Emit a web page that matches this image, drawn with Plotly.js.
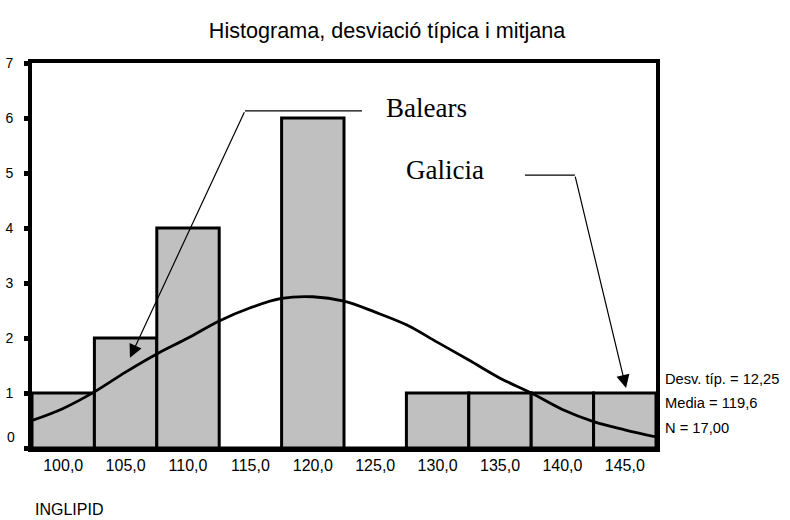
<!DOCTYPE html>
<html>
<head>
<meta charset="utf-8">
<script src="https://cdn.plot.ly/plotly-3.0.1.min.js"></script>
<style>html,body{margin:0;padding:0;background:#fff;}#chart{width:790px;height:520px;}</style>
</head>
<body>
<div id="chart"></div>
<script>
// Histogram bins (centers) and counts
const binCenters = [100, 105, 110, 115, 120, 125, 130, 135, 140, 145];
const binCounts = [1, 2, 4, 0, 6, 0, 1, 1, 1, 1];
const binWidth = 5;

// Normal curve
const curveX = [97.5, 100, 102.5, 105, 107.5, 110, 112.5, 115, 117.5, 120, 122.5, 125, 127.5, 130, 132.5, 135, 137.5, 140, 142.5, 145, 147.5];
const curveY = [0.5, 0.72, 1.02, 1.38, 1.71, 2.0, 2.31, 2.55, 2.72, 2.75, 2.67, 2.47, 2.24, 1.92, 1.60, 1.27, 1.0, 0.7, 0.48, 0.33, 0.2];

const tickLabels = ["100,0", "105,0", "110,0", "115,0", "120,0", "125,0", "130,0", "135,0", "140,0", "145,0"];
const yTickVals = [0, 1, 2, 3, 4, 5, 6, 7];
const yTickText = ["", "1", "2", "3", "4", "5", "6", "7"];
const statLines = ["Desv. típ. = 12,25", "Media = 119,6", "N = 17,00"];
const titleText = "Histograma, desviació típica i mitjana";
const xAxisName = "INGLIPID";

const traces = [
  {
    type: 'bar', x: binCenters, y: binCounts, width: binWidth,
    marker: {color: '#c0c0c0', line: {color: '#000', width: 3}},
    hoverinfo: 'skip'
  },
  {
    type: 'scatter', mode: 'lines', x: curveX, y: curveY,
    line: {color: '#000', width: 2.8, shape: 'spline'},
    hoverinfo: 'skip'
  }
];

const font = 'Arial, "Liberation Sans", sans-serif';
const serif = '"Times New Roman", "Liberation Serif", serif';

const annotations = [
  {x: 129.1, y: 6.18, xref: 'x', yref: 'y', text: 'Balears', showarrow: false,
   font: {family: serif, size: 27, color: '#000'}},
  {x: 130.6, y: 5.05, xref: 'x', yref: 'y', text: 'Galicia', showarrow: false,
   font: {family: serif, size: 27, color: '#000'}},
  {x: 105.35, y: 1.64, ax: 114.57, ay: 6.13, xref: 'x', yref: 'y', axref: 'x', ayref: 'y',
   text: '', showarrow: true, arrowhead: 2, arrowsize: 2.2, arrowwidth: 1.2, arrowcolor: '#000'},
  {x: 145.1, y: 1.09, ax: 141.0, ay: 4.96, xref: 'x', yref: 'y', axref: 'x', ayref: 'y',
   text: '', showarrow: true, arrowhead: 2, arrowsize: 2.2, arrowwidth: 1.2, arrowcolor: '#000'},
  {x: 0.0016, y: -0.16, xref: 'paper', yref: 'paper', xanchor: 'left', yanchor: 'middle',
   text: xAxisName, showarrow: false, font: {family: font, size: 16, color: '#000'}},
  {x: (17 - 32) / 624, y: 0.2, xref: 'paper', yref: 'y', xanchor: 'right', yanchor: 'middle',
   text: '0', showarrow: false, font: {family: font, size: 14, color: '#000'}}
];

const statY = [1.25, 0.82, 0.36];
statLines.forEach((t, i) => annotations.push({
  x: 1.011, y: statY[i], xref: 'paper', yref: 'y', xanchor: 'left', yanchor: 'middle',
  text: t, showarrow: false, font: {family: font, size: 14.7, color: '#000'}
}));

const shapes = [
  {type: 'line', xref: 'x', yref: 'y', x0: 114.57, y0: 6.13, x1: 123.94, y1: 6.13, line: {color: '#000', width: 1.2}},
  {type: 'line', xref: 'x', yref: 'y', x0: 137.0, y0: 4.96, x1: 141.0, y1: 4.96, line: {color: '#000', width: 1.2}}
];

const layout = {
  width: 790, height: 520,
  margin: {l: 32, r: 134, t: 63, b: 72, pad: 0},
  paper_bgcolor: '#fff', plot_bgcolor: '#fff',
  showlegend: false,
  separators: ',.',
  font: {family: font, color: '#000'},
  title: {text: titleText, x: 0.49, xanchor: 'center', y: 0.942, yanchor: 'middle',
          font: {family: font, size: 21.6, color: '#000'}},
  bargap: 0,
  xaxis: {
    range: [97.5, 147.5], showgrid: false, zeroline: false,
    showline: true, linecolor: '#000', linewidth: 4, mirror: true,
    tickmode: 'array', tickvals: binCenters, ticktext: tickLabels,
    ticks: '', tickfont: {family: font, size: 16, color: '#000'}
  },
  yaxis: {
    range: [0, 7], showgrid: false, zeroline: false,
    showline: true, linecolor: '#000', linewidth: 4, mirror: true,
    tickmode: 'array', tickvals: yTickVals, ticktext: yTickText,
    ticks: 'outside', ticklen: 4, tickwidth: 5, tickcolor: '#000',
    ticklabelstandoff: 8,
    tickfont: {family: font, size: 14, color: '#000'}
  },
  annotations: annotations,
  shapes: shapes
};

Plotly.newPlot('chart', traces, layout, {displayModeBar: false, staticPlot: true});
</script>
</body>
</html>
